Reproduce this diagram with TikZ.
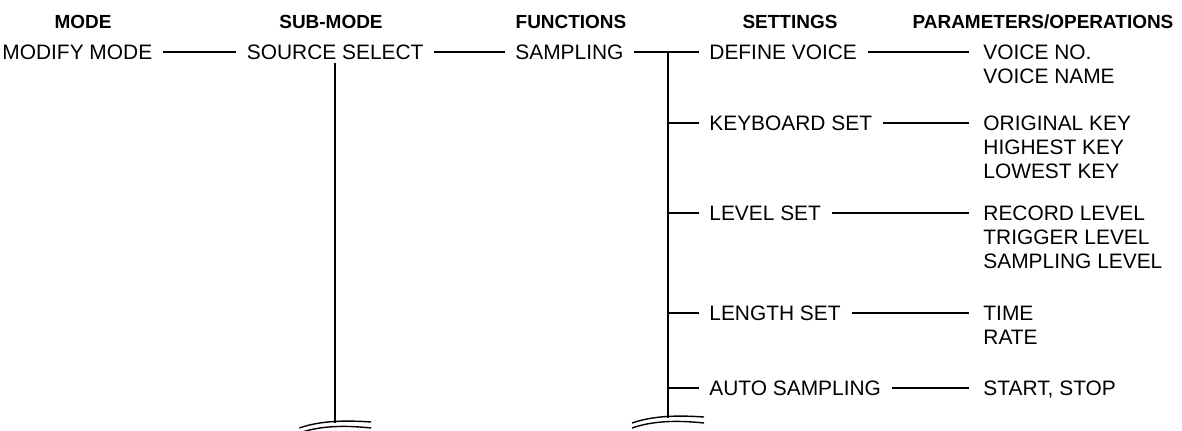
\documentclass[tikz,border=0pt]{standalone}
\usepackage{fontspec}
\setmainfont{Liberation Sans}
\usetikzlibrary{calc}

\begin{document}
\begin{tikzpicture}[x=0.02cm, y=-0.02cm,
  hd/.style={font=\fontsize{10.8}{12}\selectfont\bfseries, inner sep=0pt},
  itm/.style={font=\fontsize{11.9}{14}\selectfont, anchor=west,
              inner xsep=6pt, inner ysep=2pt,
              text height=8.5pt, text depth=0pt},
  prm/.style={itm, inner xsep=8pt},
  ln/.style={line width=1pt, black},
  wv/.style={line width=0.8pt, black}
]
\useasboundingbox (0,0) rectangle (1182,430);
%% column headings
\node[hd] (hmode) at (83,22)   {MODE};
\node[hd] (hsub)  at (331,22)  {SUB-MODE};
\node[hd] (hfun)  at (571,22)  {FUNCTIONS};
\node[hd] (hset)  at (790,22)  {SETTINGS};
\node[hd] (hpar)  at (1043,22) {PARAMETERS/OPERATIONS};
%% main row
\node[itm] (mm) at (-8.5,52)  {MODIFY MODE};
\node[itm] (ss) at (236,52)   {SOURCE SELECT};
\node[itm] (sp) at (504.5,52) {SAMPLING};
\draw[ln] (mm.east) -- (ss.west);
\draw[ln] (ss.east) -- (sp.west);
%% settings
\node[itm] (dv) at (698.5,52)  {DEFINE VOICE};
\node[itm] (kb) at (698.5,123) {KEYBOARD SET};
\node[itm] (lv) at (698.5,213) {LEVEL SET};
\node[itm] (lg) at (698.5,313) {LENGTH SET};
\node[itm] (as) at (698.5,388) {AUTO SAMPLING};
%% parameters / operations
\node[prm] (vno)   at (969,52)  {VOICE NO.};
\node[prm] (vname) at (969,76)  {VOICE NAME};
\node[prm] (okey)  at (969,123) {ORIGINAL KEY};
\node[prm] (hkey)  at (969,147) {HIGHEST KEY};
\node[prm] (lkey)  at (969,171) {LOWEST KEY};
\node[prm] (rlev)  at (969,213) {RECORD LEVEL};
\node[prm] (tlev)  at (969,237) {TRIGGER LEVEL};
\node[prm] (slev)  at (969,261) {SAMPLING LEVEL};
\node[prm] (time)  at (969,313) {TIME};
\node[prm] (rate)  at (969,337) {RATE};
\node[prm] (stst)  at (969,388) {START, STOP};
%% trunk and branches
\coordinate (tb) at (668,418);
\coordinate (sb) at (0,423);
\draw[ln] (sp.east) -- (dv.west);
\draw[ln] (tb |- dv.west) -- (tb);
\foreach \s in {kb,lv,lg,as}
  \draw[ln] (tb |- \s.west) -- (\s.west);
\draw[ln] (dv.east) -- (vno.west);
\draw[ln] (kb.east) -- (okey.west);
\draw[ln] (lv.east) -- (rlev.west);
\draw[ln] (lg.east) -- (time.west);
\draw[ln] (as.east) -- (stst.west);
%% vertical under source select
\draw[ln] (ss.south) -- (ss.south |- sb) coordinate (se);
%% break marks
\foreach \p in {se,tb}{
  \draw[wv] ($(\p)+(-36,5)$) .. controls ($(\p)+(-16,-2)$) and ($(\p)+(8,-3)$) .. ($(\p)+(36,-1)$);
  \draw[wv] ($(\p)+(-36,10)$) .. controls ($(\p)+(-16,3)$) and ($(\p)+(8,2)$) .. ($(\p)+(36,5)$);
}
\end{tikzpicture}
\end{document}
